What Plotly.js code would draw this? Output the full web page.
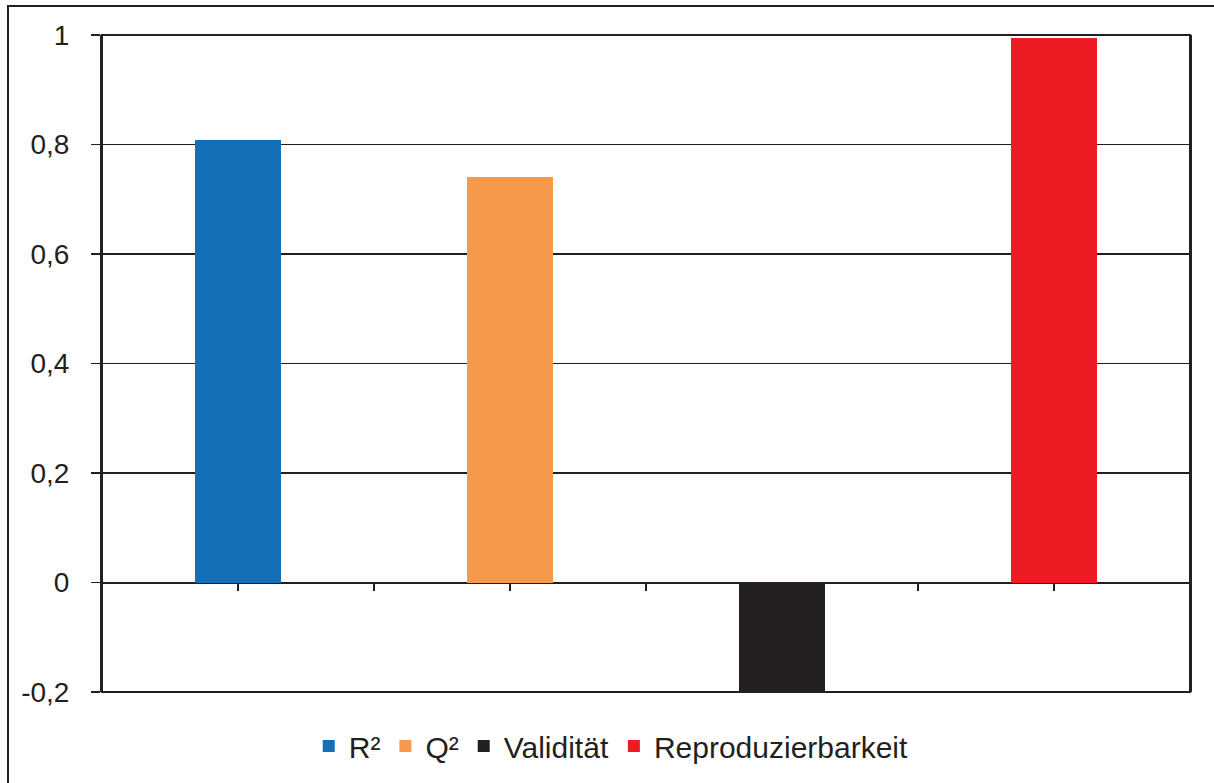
<!DOCTYPE html>
<html>
<head>
<meta charset="utf-8">
<script src="https://cdn.plot.ly/plotly-3.0.1.min.js"></script>
<style>html,body{margin:0;padding:0;background:#fff;}#chart{width:1214px;height:783px;}</style>
</head>
<body>
<div id="chart"></div>
<script>
const seriesNames = ["R²", "Q²", "Validität", "Reproduzierbarkeit"];
const seriesValues = [0.808, 0.741, -0.2, 0.995];
const seriesColors = ["#136FB8", "#F7994A", "#231F20", "#ED1C24"];
const yTickVals = [-0.2, 0, 0.2, 0.4, 0.6, 0.8, 1];
const yTickText = ["-0,2", "0", "0,2", "0,4", "0,6", "0,8", "1"];

const ink = "#231F20";
const traces = seriesNames.map((name, i) => ({
  type: "bar",
  name: name,
  x: [i * 2 + 1],
  y: [seriesValues[i]],
  width: 0.632,
  marker: {color: seriesColors[i], line: {width: 0}},
  hoverinfo: "name+y"
}));

const layout = {
  width: 1214, height: 783,
  margin: {l: 102, r: 24, t: 35, b: 90},
  paper_bgcolor: "#fff", plot_bgcolor: "#fff",
  font: {family: "'Liberation Sans', Arial, sans-serif", size: 28, color: ink},
  showlegend: true,
  legend: {
    orientation: "h", x: 0.19, xanchor: "left", y: -0.041, yanchor: "top",
    font: {size: 30, color: ink}, itemclick: false, traceorder: "normal",
    itemwidth: 30, tracegroupgap: 0
  },
  bargap: 0,
  xaxis: {
    range: [0, 8], tickmode: "array", tickvals: [1, 2, 3, 4, 5, 6, 7, 8],
    showticklabels: false, ticks: "outside", ticklen: 7, tickwidth: 1.5, tickcolor: ink,
    showline: true, linecolor: ink, linewidth: 1.5,
    showgrid: false, zeroline: false,
    anchor: "free", position: 1 / 6
  },
  yaxis: {
    range: [-0.2, 1], tickmode: "array", tickvals: yTickVals, ticktext: yTickText,
    ticks: "outside", ticklen: 9, tickwidth: 1.5, tickcolor: ink,
    showline: true, linecolor: ink, linewidth: 2, mirror: true,
    showgrid: true, gridcolor: ink, gridwidth: 1.5,
    zeroline: true, zerolinecolor: ink, zerolinewidth: 1.5,
    ticklabelstandoff: 16,
    tickfont: {size: 28, color: ink}
  },
  shapes: [{
    type: "rect", xref: "paper", yref: "paper", layer: "above",
    x0: 0, x1: 1, y0: 0, y1: 1,
    line: {color: ink, width: 2}, fillcolor: "rgba(0,0,0,0)"
  }, {
    type: "rect", xref: "paper", yref: "paper", layer: "above",
    x0: (8 - 102) / 1088, x1: (1230 - 102) / 1088,
    y0: (693 - 800) / 658, y1: (693 - 6) / 658,
    line: {color: ink, width: 2}, fillcolor: "rgba(0,0,0,0)"
  }]
};

Plotly.newPlot("chart", traces, layout, {displayModeBar: false, staticPlot: true});
</script>
</body>
</html>
